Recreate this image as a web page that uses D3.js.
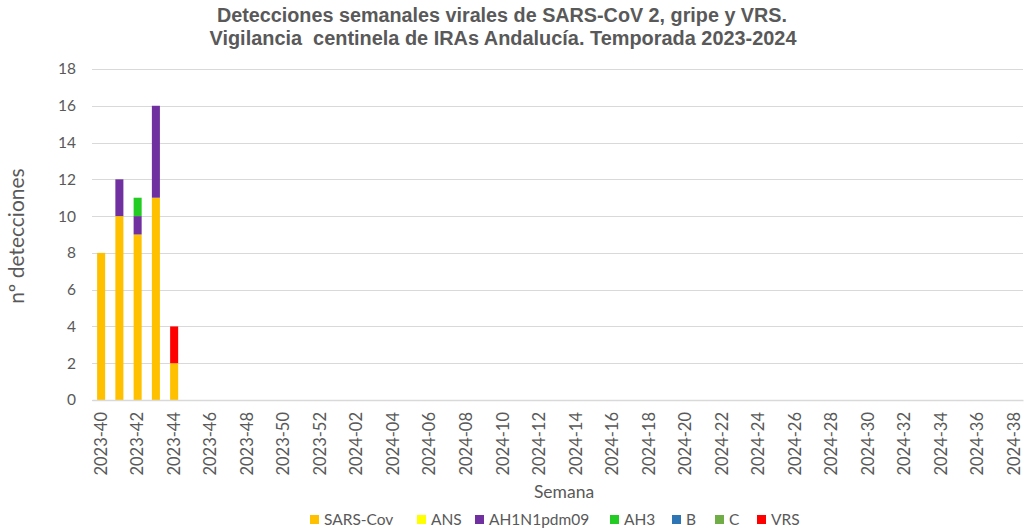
<!DOCTYPE html>
<meta charset="utf-8">
<style>
    body { margin: 0; background: #fff; }
    .tick text { fill: #595959; font-family: Lato, "Open Sans", sans-serif; }
</style>
<body>
<script src="https://d3js.org/d3.v7.min.js"></script>
<script>
    // weeks 2023-40 .. 2024-38
    const weeks = []
    for (let w = 40; w <= 52; w++) weeks.push("2023-" + w)
    for (let w = 1; w <= 38; w++) weeks.push("2024-" + String(w).padStart(2, "0"))

    const seriesNames = ["SARS-Cov", "ANS", "AH1N1pdm09", "AH3", "B", "C", "VRS"]
    const seriesColors = ["#FFC000", "#FFFF00", "#7030A0", "#22CC22", "#2E75B6", "#70AD47", "#FF0000"]

    // values for the first weeks with data; the rest of the season is empty
    const sarsCov = [8, 10, 9, 11, 2]
    const ans = [0, 0, 0, 0, 0]
    const ah1n1 = [0, 2, 1, 5, 0]
    const ah3 = [0, 0, 1, 0, 0]
    const fluB = [0, 0, 0, 0, 0]
    const fluC = [0, 0, 0, 0, 0]
    const vrs = [0, 0, 0, 0, 2]

    const yTicks = [0, 2, 4, 6, 8, 10, 12, 14, 16, 18]

    const seriesValues = [sarsCov, ans, ah1n1, ah3, fluB, fluC, vrs]
    const rows = weeks.map((wk, i) => {
        const r = {week: wk}
        seriesNames.forEach((s, j) => r[s] = seriesValues[j][i] || 0)
        return r
    })

    const width = 1026, height = 531
    const margin = {top: 69, right: 3, bottom: 131, left: 92}

    const svg = d3.select("body").append("svg")
        .attr("width", width)
        .attr("height", height)

    const x = d3.scaleBand()
        .domain(weeks)
        .range([margin.left, width - margin.right])
        .paddingInner(0.56)
        .paddingOuter(0.28)

    const y = d3.scaleLinear()
        .domain([0, 18])
        .range([height - margin.bottom, margin.top])

    // gridlines
    svg.append("g")
        .selectAll("line")
        .data(yTicks)
        .join("line")
        .attr("x1", margin.left)
        .attr("x2", width - margin.right)
        .attr("y1", d => Math.round(y(d)) + 0.5)
        .attr("y2", d => Math.round(y(d)) + 0.5)
        .attr("stroke", "#d9d9d9")
        .attr("stroke-width", 1)

    // y axis
    const gY = svg.append("g")
        .attr("transform", `translate(${margin.left},0)`)
        .call(d3.axisLeft(y).tickValues(yTicks).tickSize(0).tickPadding(16))
    gY.select(".domain").remove()
    gY.selectAll("text").style("font-size", "15.5px")

    // stacked bars
    const stack = d3.stack().keys(seriesNames)(rows)
    svg.append("g")
        .selectAll("g")
        .data(stack)
        .join("g")
        .attr("fill", (d, i) => seriesColors[i])
        .selectAll("rect")
        .data(d => d.filter(p => p[1] > p[0]))
        .join("rect")
        .attr("x", d => x(d.data.week))
        .attr("width", x.bandwidth())
        .attr("y", d => y(d[1]))
        .attr("height", d => y(d[0]) - y(d[1]))

    // x axis
    const gX = svg.append("g")
        .attr("transform", `translate(0,${height - margin.bottom})`)
        .call(d3.axisBottom(x)
            .tickValues(weeks.filter((d, i) => i % 2 === 0))
            .tickSize(0)
            .tickPadding(9))
    gX.select(".domain")
        .attr("stroke", "#d9d9d9")
        .attr("stroke-width", 1.5)
    gX.selectAll("text")
        .style("font-size", "16.5px")
        .attr("transform", "rotate(-90)")
        .attr("text-anchor", "end")
        .attr("dy", "0.35em")
        .attr("x", -12)
        .attr("y", 0)

    // title
    const title = svg.append("text")
        .attr("text-anchor", "middle")
        .attr("fill", "#595959")
        .style("font-family", "'Liberation Sans', Arial, sans-serif")
        .style("font-weight", "bold")
        .style("font-size", "19.5px")
        .style("white-space", "pre")
    title.append("tspan").attr("x", 502).attr("y", 22)
        .attr("textLength", 570).attr("lengthAdjust", "spacingAndGlyphs")
        .text("Detecciones semanales virales de SARS-CoV 2, gripe y VRS.")
    title.append("tspan").attr("x", 503).attr("y", 45)
        .attr("textLength", 587).attr("lengthAdjust", "spacingAndGlyphs")
        .text("Vigilancia  centinela de IRAs Andalucía. Temporada 2023-2024")

    // axis titles
    svg.append("text")
        .attr("transform", "translate(24,236) rotate(-90)")
        .attr("text-anchor", "middle")
        .attr("fill", "#595959")
        .style("font-family", "Lato, sans-serif")
        .style("font-size", "21px")
        .text("nº detecciones")

    svg.append("text")
        .attr("x", 564)
        .attr("y", 498)
        .attr("text-anchor", "middle")
        .attr("fill", "#595959")
        .style("font-family", "Lato, sans-serif")
        .style("font-size", "17.5px")
        .text("Semana")

    // legend
    const legendX = [310, 417, 475, 610, 672, 715, 757]
    const legend = svg.append("g")
        .selectAll("g")
        .data(seriesNames)
        .join("g")
        .attr("transform", (d, i) => `translate(${legendX[i]},525)`)
    legend.append("rect")
        .attr("y", -10)
        .attr("width", 9)
        .attr("height", 9)
        .attr("fill", (d, i) => seriesColors[i])
    legend.append("text")
        .attr("x", 14)
        .attr("y", 0)
        .attr("fill", "#595959")
        .style("font-family", "Lato, sans-serif")
        .style("font-size", "15.5px")
        .text(d => d)
</script>
